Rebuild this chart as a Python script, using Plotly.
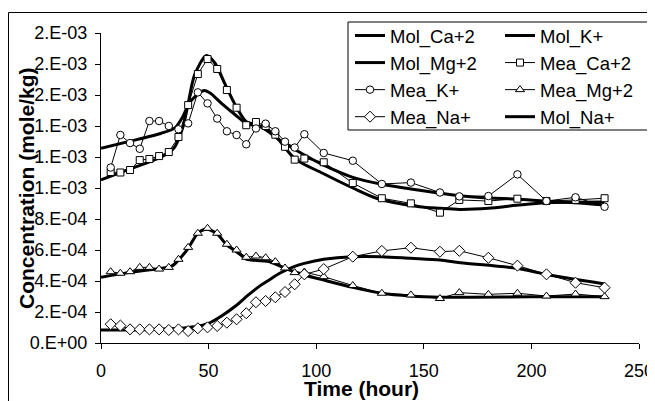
import plotly.graph_objects as go

# ---------------- data ----------------
t_mea = [4.5, 9, 13.5, 18, 22.5, 27, 31.5, 36, 40.5, 45, 49.5, 54, 58.5, 63, 67.5, 72,
         76.5, 81, 85.5, 90, 94.5, 103.5, 117, 130.5, 144, 157.5, 166.5, 180, 193.5,
         207, 220.5, 234]

mea_ca = [1.103e-3, 1.100e-3, 1.116e-3, 1.180e-3, 1.187e-3, 1.206e-3, 1.232e-3, 1.329e-3,
          1.535e-3, 1.735e-3, 1.832e-3, 1.768e-3, 1.632e-3, 1.518e-3, 1.405e-3, 1.426e-3,
          1.400e-3, 1.344e-3, 1.266e-3, 1.183e-3, 1.190e-3, 1.166e-3, 1.032e-3, 0.934e-3,
          0.901e-3, 0.841e-3, 0.923e-3, 0.916e-3, 0.931e-3, 0.916e-3, 0.923e-3, 0.934e-3]

mea_k = [1.132e-3, 1.342e-3, 1.290e-3, 1.253e-3, 1.432e-3, 1.432e-3, 1.400e-3, 1.379e-3,
         1.417e-3, 1.617e-3, 1.546e-3, 1.448e-3, 1.366e-3, 1.342e-3, 1.282e-3, 1.384e-3,
         1.415e-3, 1.366e-3, 1.299e-3, 1.261e-3, 1.347e-3, 1.226e-3, 1.176e-3, 1.026e-3,
         1.035e-3, 0.971e-3, 0.946e-3, 0.948e-3, 1.088e-3, 0.916e-3, 0.940e-3, 0.879e-3]

mea_mg = [0.460e-3, 0.450e-3, 0.460e-3, 0.488e-3, 0.488e-3, 0.477e-3, 0.488e-3, 0.540e-3,
          0.617e-3, 0.708e-3, 0.740e-3, 0.708e-3, 0.637e-3, 0.600e-3, 0.553e-3, 0.561e-3,
          0.550e-3, 0.525e-3, 0.484e-3, 0.454e-3, 0.458e-3, 0.428e-3, 0.371e-3, 0.321e-3,
          0.310e-3, 0.287e-3, 0.325e-3, 0.314e-3, 0.321e-3, 0.303e-3, 0.316e-3, 0.299e-3]

mea_na = [0.121e-3, 0.112e-3, 0.088e-3, 0.088e-3, 0.088e-3, 0.088e-3, 0.084e-3, 0.088e-3,
          0.077e-3, 0.095e-3, 0.101e-3, 0.110e-3, 0.131e-3, 0.153e-3, 0.192e-3, 0.263e-3,
          0.271e-3, 0.295e-3, 0.329e-3, 0.379e-3, 0.443e-3, 0.477e-3, 0.557e-3, 0.594e-3,
          0.615e-3, 0.589e-3, 0.595e-3, 0.550e-3, 0.499e-3, 0.443e-3, 0.389e-3, 0.357e-3]

t_mol_ca = [0, 12, 28, 34, 38, 40.5, 43.5, 49, 53, 57.5, 62, 67.5, 73, 81, 90, 103, 117,
            128, 148, 157.5, 166.5, 180, 193, 206.5, 234]
mol_ca = [1.052e-3, 1.115e-3, 1.200e-3, 1.260e-3, 1.390e-3, 1.545e-3, 1.730e-3, 1.855e-3,
          1.805e-3, 1.675e-3, 1.546e-3, 1.428e-3, 1.405e-3, 1.335e-3, 1.190e-3, 1.095e-3,
          1.000e-3, 0.934e-3, 0.879e-3, 0.869e-3, 0.862e-3, 0.869e-3, 0.888e-3, 0.905e-3,
          0.910e-3]

t_mol_k = [0, 12.7, 28, 34.5, 38, 41.5, 47.5, 50.5, 56, 62.5, 67.5, 74.5, 83, 94.5, 103.5,
           117, 130.5, 144, 157.5, 166.5, 180, 193, 206, 220, 234]
mol_k = [1.256e-3, 1.299e-3, 1.353e-3, 1.390e-3, 1.460e-3, 1.557e-3, 1.628e-3, 1.615e-3,
         1.546e-3, 1.471e-3, 1.417e-3, 1.392e-3, 1.310e-3, 1.213e-3, 1.148e-3, 1.069e-3,
         1.024e-3, 0.994e-3, 0.966e-3, 0.950e-3, 0.935e-3, 0.929e-3, 0.916e-3, 0.905e-3,
         0.890e-3]

t_mol_mg = [0, 12.7, 28, 33, 36, 40.5, 45, 49, 54, 58.5, 63, 67.5, 74.5, 78.5, 85.5, 94.5,
            103.5, 117, 130.5, 144, 157.5, 171.5, 200, 234]
mol_mg = [0.424e-3, 0.454e-3, 0.482e-3, 0.497e-3, 0.535e-3, 0.611e-3, 0.708e-3, 0.734e-3,
          0.703e-3, 0.632e-3, 0.589e-3, 0.542e-3, 0.531e-3, 0.524e-3, 0.482e-3, 0.439e-3,
          0.406e-3, 0.359e-3, 0.321e-3, 0.303e-3, 0.295e-3, 0.295e-3, 0.298e-3, 0.299e-3]

t_mol_na = [0, 20, 36, 43.5, 50, 56, 62.5, 68.5, 74.5, 78.5, 83, 90, 94.5, 103.5, 117,
            130.5, 144, 157.5, 167, 193, 206, 220, 234]
mol_na = [0.084e-3, 0.086e-3, 0.095e-3, 0.105e-3, 0.127e-3, 0.174e-3, 0.239e-3, 0.310e-3,
          0.375e-3, 0.410e-3, 0.450e-3, 0.495e-3, 0.514e-3, 0.540e-3, 0.557e-3, 0.557e-3,
          0.546e-3, 0.535e-3, 0.518e-3, 0.482e-3, 0.445e-3, 0.411e-3, 0.381e-3]

y_tickvals = [0, 2e-4, 4e-4, 6e-4, 8e-4, 1.0e-3, 1.2e-3, 1.4e-3, 1.6e-3, 1.8e-3, 2.0e-3]
y_ticktext = ["0.E+00", "2.E-04", "4.E-04", "6.E-04", "8.E-04", "1.E-03", "1.E-03",
              "1.E-03", "2.E-03", "2.E-03", "2.E-03"]
x_tickvals = [0, 50, 100, 150, 200, 250]

FONT = "Arial, Liberation Sans, sans-serif"

fig = go.Figure()

def mol(name, t, v, legend, rank):
    fig.add_trace(go.Scatter(x=t, y=v, name=name, mode="lines",
                             line=dict(color="black", width=3, shape="spline", smoothing=0.8),
                             legend=legend, legendrank=rank))

def mea(name, t, v, symbol, size, legend, rank):
    fig.add_trace(go.Scatter(x=t, y=v, name=name, mode="lines+markers",
                             line=dict(color="black", width=1),
                             marker=dict(symbol=symbol, size=size, color="white",
                                         line=dict(color="black", width=1)),
                             legend=legend, legendrank=rank))

mol("Mol_Ca+2", t_mol_ca, mol_ca, "legend", 1)
mol("Mol_K+", t_mol_k, mol_k, "legend2", 1)
mol("Mol_Mg+2", t_mol_mg, mol_mg, "legend", 2)
mol("Mol_Na+", t_mol_na, mol_na, "legend2", 4)
mea("Mea_Ca+2", t_mea, mea_ca, "square", 7, "legend2", 2)
mea("Mea_K+", t_mea, mea_k, "circle", 7.5, "legend", 3)
mea("Mea_Mg+2", t_mea, mea_mg, "triangle-up", 8, "legend2", 3)
mea("Mea_Na+", t_mea, mea_na, "diamond", 8.5, "legend", 4)

# The page body has an 8px default margin, so the figure is drawn 8px right/down.
OFF = 8
W, H = 655 - OFF, 401 - OFF
# plot area in screen pixels: x 101..639, y 33..343
L, T = 101 - OFF, 33 - OFF
R, B = W - (639 - OFF), H - (343 - OFF)
pw, ph = 639 - 101, 343 - 33

def px(sx):
    return (sx - 101) / pw

def py(sy):
    return (343 - sy) / ph

legend_common = dict(font=dict(family=FONT, size=18.5, color="black"),
                     bgcolor="rgba(0,0,0,0)", borderwidth=0,
                     xanchor="left", yanchor="top", y=py(17), tracegroupgap=0,
                     itemclick=False, itemdoubleclick=False)

fig.update_layout(
    width=W, height=H,
    margin=dict(l=L, r=R, t=T, b=B, autoexpand=False),
    paper_bgcolor="white", plot_bgcolor="white",
    font=dict(family=FONT, size=18, color="black"),
    legend=dict(x=px(350), **legend_common),
    legend2=dict(x=px(500), **legend_common),
    xaxis=dict(range=[0, 250], tickvals=x_tickvals, showgrid=False, zeroline=False,
               showline=True, linecolor="black", linewidth=1, ticks="outside",
               ticklen=5, tickcolor="black", tickwidth=1,
               tickfont=dict(family=FONT, size=18, color="black"),
               ticklabelstandoff=6),
    yaxis=dict(range=[0, 2e-3], tickvals=y_tickvals, ticktext=y_ticktext,
               showgrid=False, zeroline=False,
               showline=True, linecolor="black", linewidth=1, ticks="outside",
               ticklen=5, tickcolor="black", tickwidth=1,
               tickfont=dict(family=FONT, size=18, color="black"),
               ticklabelstandoff=4),
    showlegend=True,
)

# legend frame
fig.add_shape(type="rect", xref="paper", yref="paper",
              x0=px(348), x1=px(648), y0=py(130), y1=py(22),
              line=dict(color="black", width=1), fillcolor="rgba(0,0,0,0)", layer="above")
# chart area border (top and left visible)
fig.add_shape(type="line", xref="paper", yref="paper",
              x0=px(8.5), x1=px(660), y0=py(12.5), y1=py(12.5), line=dict(color="black", width=1))
fig.add_shape(type="line", xref="paper", yref="paper",
              x0=px(8.5), x1=px(8.5), y0=py(12.5), y1=py(410), line=dict(color="black", width=1))

fig.add_annotation(text="<b>Concentration (mole/kg)</b>", xref="paper", yref="paper",
                   x=px(26), y=py(188), textangle=-90, showarrow=False,
                   font=dict(family=FONT, size=21, color="black"),
                   xanchor="center", yanchor="middle")
fig.add_annotation(text="<b>Time (hour)</b>", xref="paper", yref="paper",
                   x=px(361), y=py(388), showarrow=False,
                   font=dict(family=FONT, size=21, color="black"),
                   xanchor="center", yanchor="middle")

fig.write_html("out.html")
